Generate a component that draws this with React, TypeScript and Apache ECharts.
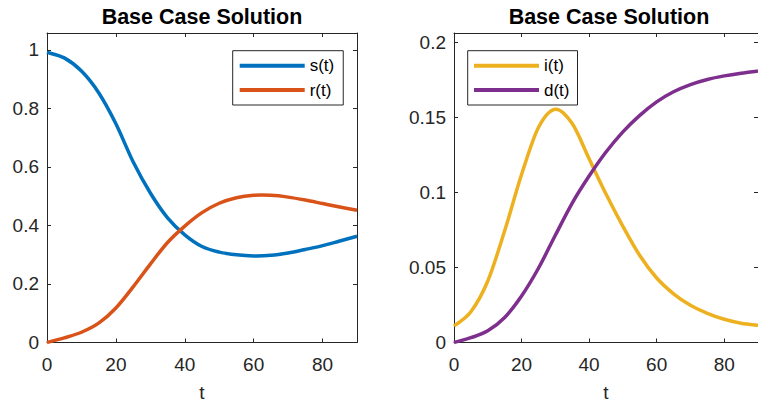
import React, { useEffect, useRef } from "react";
import * as echarts from "echarts";

const tValues = [0, 5, 10, 15, 20, 25, 30, 35, 40, 45, 50, 55, 60, 65, 70, 75, 80, 85, 90];
const sValues = [0.992, 0.973, 0.928, 0.854, 0.748, 0.618, 0.511, 0.426, 0.368, 0.328, 0.309, 0.3, 0.296, 0.298, 0.306, 0.318, 0.331, 0.347, 0.363];
const rValues = [0, 0.016, 0.035, 0.066, 0.118, 0.19, 0.268, 0.342, 0.398, 0.444, 0.476, 0.495, 0.503, 0.503, 0.497, 0.487, 0.475, 0.463, 0.452];
const iValues = [0.011, 0.0205, 0.041, 0.0745, 0.112, 0.1434, 0.1556, 0.146, 0.1225, 0.099, 0.0775, 0.058, 0.043, 0.0325, 0.0248, 0.0195, 0.0155, 0.0129, 0.0115];
const dValues = [0, 0.0032, 0.0078, 0.0167, 0.031, 0.0495, 0.0715, 0.093, 0.111, 0.127, 0.1405, 0.1515, 0.1605, 0.1672, 0.172, 0.1754, 0.1778, 0.1796, 0.181];

const titleText = "Base Case Solution";
const xName = "t";
const leftNames = ["s(t)", "r(t)"];
const rightNames = ["i(t)", "d(t)"];
const colors = ["#0072BD", "#D95319", "#EDB120", "#7E2F8E"];

const FONT = "'Liberation Sans', Arial, Helvetica, sans-serif";
const AX = "#262626";

// Catmull-Rom spline through the pixel positions given by the axes
function splinePath(pts: number[][]): string {
  const n = pts.length;
  let d = `M${pts[0][0]},${pts[0][1]}`;
  for (let k = 0; k < n - 1; k++) {
    const p0 = pts[Math.max(k - 1, 0)];
    const p1 = pts[k];
    const p2 = pts[k + 1];
    const p3 = pts[Math.min(k + 2, n - 1)];
    const c1x = p1[0] + (p2[0] - p0[0]) / 6;
    const c1y = p1[1] + (p2[1] - p0[1]) / 6;
    const c2x = p2[0] - (p3[0] - p1[0]) / 6;
    const c2y = p2[1] - (p3[1] - p1[1]) / 6;
    d += ` C${c1x},${c1y} ${c2x},${c2y} ${p2[0]},${p2[1]}`;
  }
  return d;
}

export default function App() {
  const ref = useRef<HTMLDivElement>(null);
  useEffect(() => {
    if (!ref.current) return;
    const chart = echarts.init(ref.current, null, { renderer: "svg" });

    const axisCommon = {
      axisLine: { show: true, onZero: false, lineStyle: { color: AX, width: 1 } },
      axisTick: { show: true, inside: true, length: 4, lineStyle: { color: AX, width: 1 } },
      splitLine: { show: false },
    };
    const labelStyle = { color: AX, fontSize: 19, fontFamily: FONT };

    const xAxisFor = (gi: number) => [
      {
        type: "value", gridIndex: gi, position: "bottom", min: 0, max: 90, interval: 20,
        ...axisCommon,
        axisLabel: { ...labelStyle, margin: 12, showMaxLabel: false },
        name: xName, nameLocation: "middle", nameGap: 50,
        nameTextStyle: { color: AX, fontSize: 19, fontFamily: FONT, verticalAlign: "middle" },
      },
      {
        type: "value", gridIndex: gi, position: "top", min: 0, max: 90, interval: 20,
        ...axisCommon, axisLabel: { show: false },
      },
    ];
    const yAxisFor = (gi: number, max: number, interval: number) => [
      {
        type: "value", gridIndex: gi, position: "left", min: 0, max, interval,
        ...axisCommon,
        axisLabel: { ...labelStyle, margin: 8, showMaxLabel: false },
      },
      {
        type: "value", gridIndex: gi, position: "right", min: 0, max, interval,
        ...axisCommon, axisLabel: { show: false },
      },
    ];

    const curveSeries = (name: string, ys: number[], color: string, gi: number) => ({
      type: "custom", name, xAxisIndex: gi * 2, yAxisIndex: gi * 2,
      data: tValues.map((t, k) => [t, ys[k]]),
      encode: { x: 0, y: 1 },
      itemStyle: { color },
      clip: false,
      renderItem: (params: any, api: any) => {
        if (params.dataIndex !== 0) return null;
        const pts = tValues.map((t, k) => api.coord([t, ys[k]]));
        return {
          type: "path",
          shape: { pathData: splinePath(pts) },
          style: { fill: "none", stroke: color, lineWidth: 3.5, lineJoin: "round" },
        };
      },
    });

    const legendCommon = {
      orient: "vertical", icon: "rect", itemWidth: 65, itemHeight: 4, itemGap: 4.3,
      borderColor: AX, borderWidth: 1, backgroundColor: "#ffffff", borderRadius: 0,
      textStyle: { color: "#000000", fontSize: 17, fontFamily: FONT, lineHeight: 20 },
      selectedMode: false,
    };

    chart.setOption({
      animation: false,
      backgroundColor: "#ffffff",
      grid: [
        { left: 47, top: 33, width: 310, height: 310, containLabel: false },
        { left: 454, top: 33, width: 310.5, height: 309.7, containLabel: false },
      ],
      xAxis: [...xAxisFor(0), ...xAxisFor(1)],
      yAxis: [...yAxisFor(0, 1.058, 0.2), ...yAxisFor(1, 0.2064, 0.05)],
      legend: [
        { ...legendCommon, data: leftNames, left: 232.7, top: 50.7, padding: [5, 9, 5, 7] },
        { ...legendCommon, data: rightNames, left: 467.7, top: 50.7, padding: [5, 8, 5, 6.3] },
      ],
      graphic: [
        { type: "text", x: 202, y: 17, style: { text: titleText, fill: "#000000", font: `bold 21.5px ${FONT}`, textAlign: "center", textVerticalAlign: "middle" } },
        { type: "text", x: 609, y: 17, style: { text: titleText, fill: "#000000", font: `bold 21.5px ${FONT}`, textAlign: "center", textVerticalAlign: "middle" } },
      ],
      series: [
        curveSeries(leftNames[0], sValues, colors[0], 0),
        curveSeries(leftNames[1], rValues, colors[1], 0),
        curveSeries(rightNames[0], iValues, colors[2], 1),
        curveSeries(rightNames[1], dValues, colors[3], 1),
      ],
    });
    return () => chart.dispose();
  }, []);
  return <div ref={ref} style={{ position: "absolute", left: 0, top: 0, width: 758, height: 407 }} />;
}
